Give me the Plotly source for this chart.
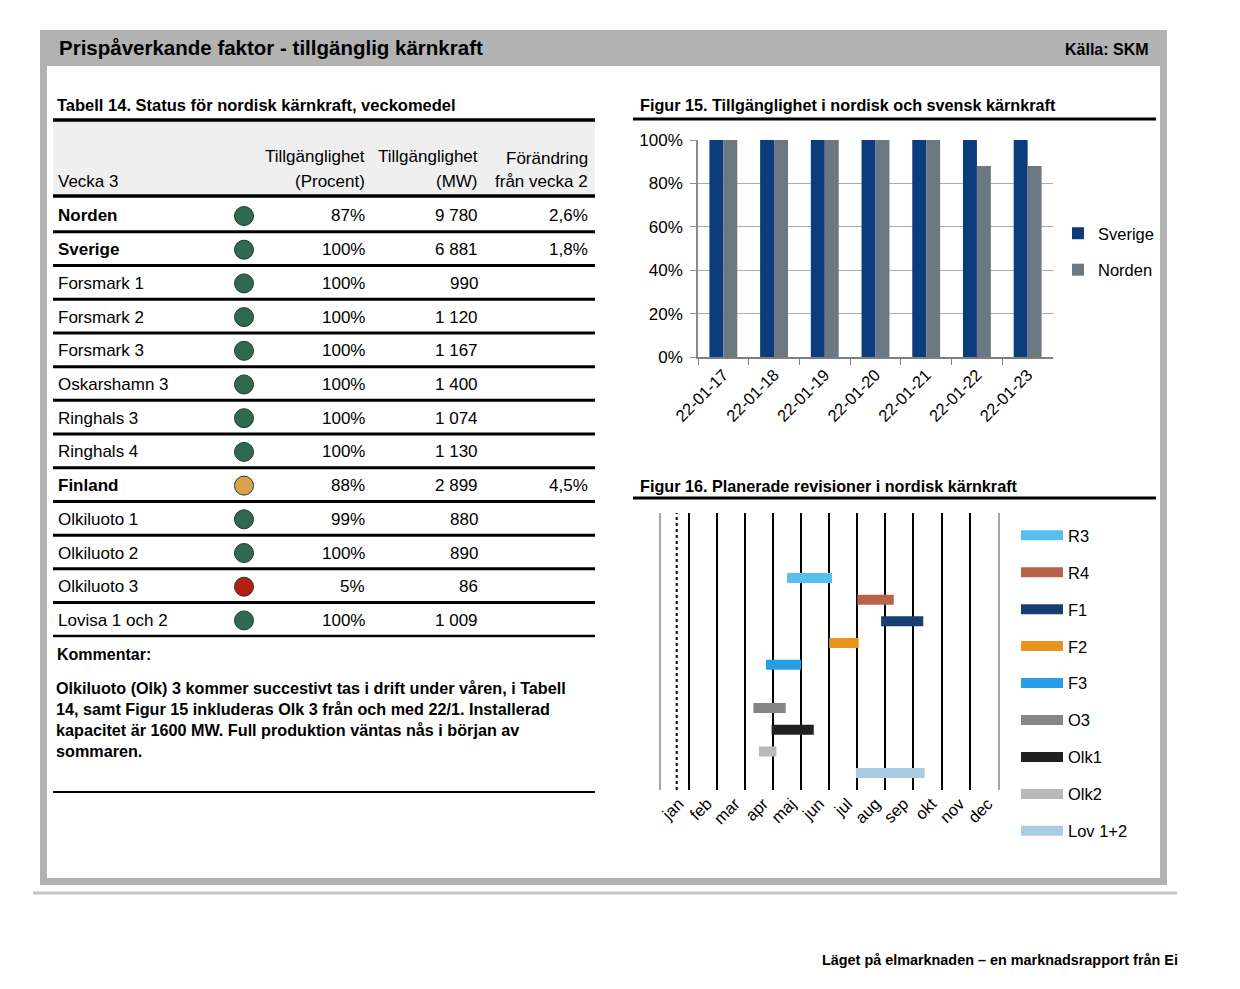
import plotly.graph_objects as go

# page body adds an 8px margin; the figure is sized to fit the 1240x989 window
OFF = 8
W, H = 1240 - 2 * OFF, 989 - 2 * OFF

# ---------------- data ----------------
bar_dates = ["22-01-17", "22-01-18", "22-01-19", "22-01-20", "22-01-21", "22-01-22", "22-01-23"]
sverige = [100, 100, 100, 100, 100, 100, 100]
norden = [100, 100, 100, 100, 100, 88, 88]

gantt_units = ["R3", "R4", "F1", "F2", "F3", "O3", "Olk1", "Olk2", "Lov 1+2"]
gantt_rows = [10, 9, 8, 7, 6, 4, 3, 2, 1]
gantt_start = [4.5, 7.0, 7.85, 6.0, 3.75, 3.3, 3.95, 3.5, 6.95]
gantt_end = [6.1, 8.3, 9.35, 7.05, 5.0, 4.45, 5.45, 4.12, 9.4]
gantt_colors = ["#55c0ee", "#b9634c", "#173f72", "#e8931c", "#2a9de8",
                "#858585", "#202020", "#b9b9b9", "#a8cde3"]
months = ["jan", "feb", "mar", "apr", "maj", "jun", "jul", "aug", "sep", "okt", "nov", "dec"]
today_month = 0.57

table_names = ["Norden", "Sverige", "Forsmark 1", "Forsmark 2", "Forsmark 3", "Oskarshamn 3",
               "Ringhals 3", "Ringhals 4", "Finland", "Olkiluoto 1", "Olkiluoto 2",
               "Olkiluoto 3", "Lovisa 1 och 2"]
table_bold = [True, True, False, False, False, False, False, False, True, False, False, False, False]
table_status = ["green", "green", "green", "green", "green", "green", "green", "green",
                "orange", "green", "green", "red", "green"]
table_pct = ["87%", "100%", "100%", "100%", "100%", "100%", "100%", "100%",
             "88%", "99%", "100%", "5%", "100%"]
table_mw = ["9 780", "6 881", "990", "1 120", "1 167", "1 400", "1 074", "1 130",
            "2 899", "880", "890", "86", "1 009"]
table_change = ["2,6%", "1,8%", "", "", "", "", "", "", "4,5%", "", "", "", ""]
status_colors = {"green": "#2f6a50", "orange": "#dba24c", "red": "#b4200f"}

comment_lines = [
    "Olkiluoto (Olk) 3 kommer succestivt tas i drift under våren, i Tabell",
    "14, samt Figur 15 inkluderas Olk 3 från och med 22/1. Installerad",
    "kapacitet är 1600 MW. Full produktion väntas nås i början av",
    "sommaren.",
]

FONT = "Liberation Sans, Arial, sans-serif"
TS = 17  # table font size


def px(x):
    return (x - OFF) / W


def py(y):
    return 1 - (y - OFF) / H


fig = go.Figure()

# ---------------- Figur 15: bars ----------------
fig.add_trace(go.Bar(x=bar_dates, y=[v / 100 for v in sverige], name="Sverige",
                     marker=dict(color="#0c3c7c", line=dict(width=0)),
                     xaxis="x", yaxis="y", legend="legend2", legendgroup="s"))
fig.add_trace(go.Bar(x=bar_dates, y=[v / 100 for v in norden], name="Norden",
                     marker=dict(color="#6b7882", line=dict(width=0)),
                     xaxis="x", yaxis="y", legend="legend2", legendgroup="n"))

# ---------------- Figur 16: gantt ----------------
for u, r, s, e, c in zip(gantt_units, gantt_rows, gantt_start, gantt_end, gantt_colors):
    fig.add_trace(go.Scatter(x=[s, e], y=[r, r], mode="lines", name=u,
                             line=dict(color=c, width=10),
                             xaxis="x2", yaxis="y2", legend="legend", legendgroup=u,
                             hoverinfo="name"))
fig.add_trace(go.Scatter(x=[today_month, today_month], y=[0.22, 13.0], mode="lines",
                         line=dict(color="black", width=2, dash="dot"),
                         xaxis="x2", yaxis="y2", showlegend=False, hoverinfo="skip"))

# ---------------- table status dots ----------------
fig.add_trace(go.Scatter(x=[244] * len(table_names), y=list(range(len(table_names))),
                         mode="markers",
                         marker=dict(size=19, color=[status_colors[s] for s in table_status],
                                     line=dict(width=1, color="#1f3a2c")),
                         xaxis="x3", yaxis="y3", showlegend=False, hoverinfo="skip"))

shapes = []
annotations = []

# frame
shapes.append(dict(type="rect", xref="paper", yref="paper", x0=px(40), x1=px(1167),
                   y0=py(885), y1=py(30), fillcolor="#b2b2b2", line=dict(width=0), layer="below"))
shapes.append(dict(type="rect", xref="paper", yref="paper", x0=px(47), x1=px(1160),
                   y0=py(878), y1=py(66), fillcolor="white", line=dict(width=0), layer="below"))
shapes.append(dict(type="line", xref="paper", yref="paper", x0=px(33), x1=px(1177),
                   y0=py(893), y1=py(893), line=dict(color="#c4c4c4", width=3), layer="below"))

annotations.append(dict(text="Prispåverkande faktor - tillgänglig kärnkraft", x=px(57), y=py(48),
                        xref="paper", yref="paper", xanchor="left", yanchor="middle", showarrow=False,
                        font=dict(size=20.5, color="black", family=FONT, weight="bold")))
annotations.append(dict(text="Källa: SKM", x=px(1151), y=py(49),
                        xref="paper", yref="paper", xanchor="right", yanchor="middle", showarrow=False,
                        font=dict(size=16, color="black", family=FONT, weight="bold")))

# table title and header
annotations.append(dict(text="Tabell 14. Status för nordisk kärnkraft, veckomedel", x=px(55), y=py(105),
                        xref="paper", yref="paper", xanchor="left", yanchor="middle", showarrow=False,
                        font=dict(size=16.5, color="black", family=FONT, weight="bold")))
shapes.append(dict(type="rect", xref="paper", yref="paper", x0=px(53), x1=px(595),
                   y0=py(196), y1=py(120), fillcolor="#efefef", line=dict(width=0), layer="below"))
for yy in (120, 196):
    shapes.append(dict(type="line", xref="paper", yref="paper", x0=px(53), x1=px(595),
                       y0=py(yy), y1=py(yy), line=dict(color="black", width=3.5)))
hdr = [("Vecka 3", 56, 182, "left"),
       ("Tillgänglighet", 367, 156, "right"), ("(Procent)", 367, 182, "right"),
       ("Tillgänglighet", 480, 156, "right"), ("(MW)", 480, 182, "right"),
       ("Förändring", 590, 158, "right"), ("från vecka 2", 590, 182, "right")]
for t, x, y, a in hdr:
    annotations.append(dict(text=t, x=px(x), y=py(y), xref="paper", yref="paper", xanchor=a,
                            yanchor="middle", showarrow=False,
                            font=dict(size=TS, color="black", family=FONT)))

# table rows
for i, name in enumerate(table_names):
    w = "bold" if table_bold[i] else "normal"
    annotations.append(dict(text=name, x=56, y=i, xref="x3", yref="y3", xanchor="left",
                            yanchor="middle", showarrow=False,
                            font=dict(size=TS, color="black", family=FONT, weight=w)))
    for txt, x in ((table_pct[i], 367), (table_mw[i], 480), (table_change[i], 590)):
        if txt:
            annotations.append(dict(text=txt, x=x, y=i, xref="x3", yref="y3", xanchor="right",
                                    yanchor="middle", showarrow=False,
                                    font=dict(size=TS, color="black", family=FONT)))
    shapes.append(dict(type="line", xref="x3", yref="y3", x0=53, x1=595, y0=i + 0.47, y1=i + 0.47,
                       line=dict(color="black", width=3)))

# comment
annotations.append(dict(text="Kommentar:", x=px(55), y=py(654), xref="paper", yref="paper",
                        xanchor="left", yanchor="middle", showarrow=False,
                        font=dict(size=16, color="black", family=FONT, weight="bold")))
annotations.append(dict(text="<br>".join(comment_lines), x=px(54), y=py(677), xref="paper",
                        yref="paper", xanchor="left", yanchor="top", align="left", showarrow=False,
                        font=dict(size=16.2, color="black", family=FONT, weight="bold")))
shapes.append(dict(type="line", xref="paper", yref="paper", x0=px(53), x1=px(595),
                   y0=py(792), y1=py(792), line=dict(color="black", width=2)))

# figure titles
annotations.append(dict(text="Figur 15. Tillgänglighet i nordisk och svensk kärnkraft", x=px(638),
                        y=py(105), xref="paper", yref="paper", xanchor="left", yanchor="middle",
                        showarrow=False, font=dict(size=16.2, color="black", family=FONT, weight="bold")))
shapes.append(dict(type="line", xref="paper", yref="paper", x0=px(633), x1=px(1156),
                   y0=py(119), y1=py(119), line=dict(color="black", width=3)))
annotations.append(dict(text="Figur 16. Planerade revisioner i nordisk kärnkraft", x=px(638),
                        y=py(486), xref="paper", yref="paper", xanchor="left", yanchor="middle",
                        showarrow=False, font=dict(size=16.2, color="black", family=FONT, weight="bold")))
shapes.append(dict(type="line", xref="paper", yref="paper", x0=px(633), x1=px(1156),
                   y0=py(498), y1=py(498), line=dict(color="black", width=3)))

# footer
annotations.append(dict(text="Läget på elmarknaden – en marknadsrapport från Ei", x=px(1180),
                        y=py(960), xref="paper", yref="paper", xanchor="right", yanchor="middle",
                        showarrow=False, font=dict(size=14.4, color="black", family=FONT, weight="bold")))

fig.update_layout(
    width=W, height=H, margin=dict(l=0, r=0, t=0, b=0, pad=0, autoexpand=False),
    paper_bgcolor="white", plot_bgcolor="rgba(0,0,0,0)",
    font=dict(family=FONT, color="black", size=16),
    barmode="group", bargap=0.45, bargroupgap=0,
    shapes=shapes, annotations=annotations,
    xaxis=dict(domain=[px(698), px(1053)], anchor="y", type="category", automargin=False,
               tickangle=-45, ticks="outside", tickson="boundaries", ticklen=6,
               tickcolor="#7f7f7f", showline=True, linecolor="#7f7f7f", linewidth=1.5,
               showgrid=False, tickfont=dict(size=16.5, color="black")),
    yaxis=dict(domain=[py(357), py(140)], anchor="x", range=[0, 1], dtick=0.2, automargin=False,
               tickformat=".0%", showgrid=True, gridcolor="#ababab", gridwidth=1.2,
               showline=True, linecolor="#8c8c8c", linewidth=1.5, ticks="outside",
               ticklen=6, tickcolor="#8c8c8c", zeroline=False, ticklabelstandoff=4,
               tickfont=dict(size=17, color="black")),
    xaxis2=dict(domain=[px(660.7), px(997.7)], anchor="y2", range=[0, 12], automargin=False,
                tickmode="array", tickvals=[i + 0.65 for i in range(12)], ticktext=months,
                tickangle=-45, ticks="", showgrid=False, zeroline=False, showline=False,
                tickfont=dict(size=16.5, color="black"),
                minor=dict(tickmode="array", tickvals=list(range(1, 12)), showgrid=True,
                           gridcolor="black", gridwidth=2, ticks="")),
    yaxis2=dict(domain=[py(790), py(513)], anchor="x2", range=[0.22, 13.0], automargin=False,
                showticklabels=False, showgrid=False, zeroline=False, ticks="",
                showline=True, mirror=True, linecolor="#a6a6a6", linewidth=2),
    xaxis3=dict(domain=[px(53), px(595)], anchor="y3", range=[53, 595], visible=False,
                automargin=False),
    yaxis3=dict(domain=[py(637.25), py(199.15)], anchor="x3", range=[12.5, -0.5], visible=False,
                automargin=False),
    legend=dict(x=px(1016), y=py(518), xanchor="left", yanchor="top", traceorder="grouped",
                tracegroupgap=12.5, font=dict(size=16.5, color="black"), bgcolor="rgba(0,0,0,0)",
                itemwidth=42),
    legend2=dict(x=px(1058), y=py(216), xanchor="left", yanchor="top", traceorder="grouped",
                 tracegroupgap=12, font=dict(size=16.5, color="black"), bgcolor="rgba(0,0,0,0)"),
    showlegend=True,
)

fig.write_html("out.html")
